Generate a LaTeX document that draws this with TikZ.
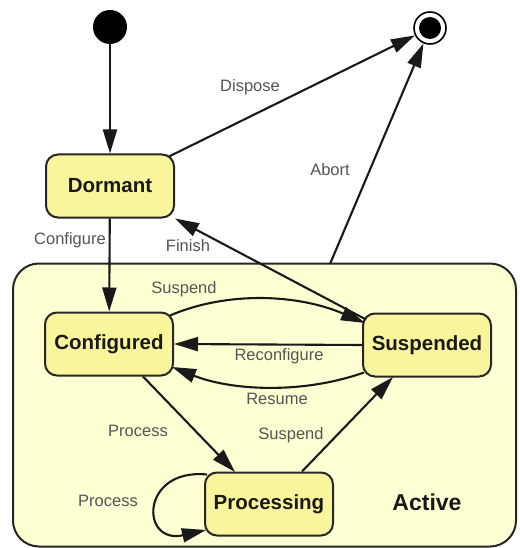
\documentclass[tikz,border=0pt]{standalone}
\usepackage{fontspec}
\setmainfont{Liberation Sans}
\usetikzlibrary{arrows.meta}
\definecolor{nodefill}{HTML}{F9F59C}
\definecolor{activefill}{HTML}{FFFFD4}
\definecolor{labelgray}{HTML}{555555}
\begin{document}
\begin{tikzpicture}[x=1pt,y=-1pt,
  state/.style={draw=black!85,line width=2pt,fill=nodefill,rounded corners=12pt,
    minimum width=128pt,minimum height=63pt,inner sep=0pt,
    font=\fontsize{20.5}{24}\selectfont\bfseries,text=black!90},
  lbl/.style={font=\fontsize{16.5}{20}\selectfont,text=labelgray,inner sep=0pt},
  tr/.style={line width=2.1pt,draw=black!90,-{Triangle[length=24pt,width=14pt]}}]
\useasboundingbox (0,0) rectangle (519,548);
\fill[white] (0,0) rectangle (519,548);
% composite state
\node[draw=black!85,line width=2pt,fill=activefill,rounded corners=26pt,
  minimum width=503pt,minimum height=283pt,inner sep=0pt] (active) at (264.5,405) {};
\node[font=\fontsize{23}{27}\selectfont\bfseries,text=black!90] (activelbl) at (427,502) {Active};
% pseudo states
\node[circle,fill=black,minimum size=34pt,inner sep=0pt] (init) at (110,27) {};
\node[circle,draw=black,line width=1.6pt,fill=white,minimum size=32pt,inner sep=0pt] (final) at (430,28) {};
\node[circle,fill=black,minimum size=22pt,inner sep=0pt] (finalin) at (430,28) {};
% states
\node[state] (dormant) at (110,186) {Dormant};
\node[state] (configured) at (109,344) {Configured};
\node[state] (suspended) at (427,345) {Suspended};
\node[state] (processing) at (269,504) {Processing};
% coordinates
\coordinate (abortstart) at (330,264);
% transitions
\draw[tr] (init) -- (dormant);
\draw[tr] (dormant.north east) ++(-6,3) coordinate (dispstart) -- (final);
\draw[tr] (abortstart) -- (final);
\draw[tr] (suspended.north west) ++(4,7) coordinate (finstart) -- (dormant.south east);
\draw[tr] (dormant) -- (configured);
\draw[tr] (configured.north east) ++(-4,4) coordinate (susp1)
  .. controls (230,290) and (300,295) .. (365,323);
\draw[tr] (suspended.west) -- (configured.east);
\draw[tr] (suspended.south west) ++(2,-5) coordinate (res1)
  .. controls (300,395) and (230,390) .. (172,367);
\draw[tr] (configured.south) ++(34,0) coordinate (proc1) -- (235,472);
\draw[tr] (processing.north) ++(33,0) coordinate (susp2) -- (393,377);
\draw[tr] (processing.north west) ++(3,3) coordinate (loop1)
  .. controls (140,468) and (140,545) .. (206,530);
% labels
\node[lbl] at (250,87) {Dispose};
\node[lbl] at (330,170) {Abort};
\node[lbl] at (70,240) {Configure};
\node[lbl] at (188,246) {Finish};
\node[lbl] at (184,289) {Suspend};
\node[lbl] at (279,356) {Reconfigure};
\node[lbl] at (277,399) {Resume};
\node[lbl] at (138,431) {Process};
\node[lbl] at (291,435) {Suspend};
\node[lbl] at (108,501) {Process};
\end{tikzpicture}
\end{document}
